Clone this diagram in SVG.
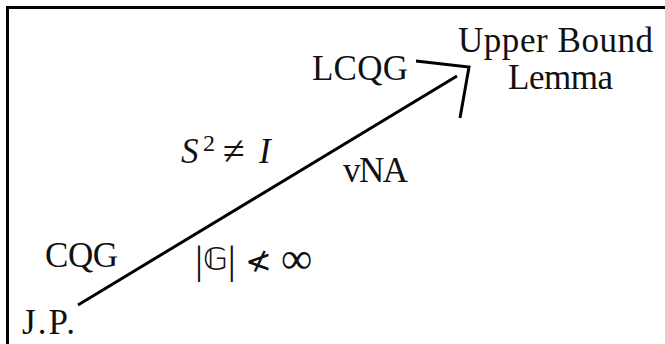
<svg xmlns="http://www.w3.org/2000/svg" width="665" height="344" viewBox="0 0 665 344">
<style>
.t{font-family:"Liberation Serif","DejaVu Serif","DejaVu Sans",serif;font-size:35px;fill:#111}
.m{font-family:"DejaVu Sans","Liberation Serif",serif;fill:#111}
.ln{fill:none;stroke:#000;stroke-width:3;stroke-linecap:butt;stroke-linejoin:miter}
</style>
<rect width="665" height="344" fill="#fff"/>
<path class="ln" d="M7.5,344 V7.5 H665"/>
<g id="connectors">
<line class="ln" x1="78" y1="305" x2="457" y2="76"/>
<polyline class="ln" points="416,61 469,67 460,118"/>
</g>
<g id="jp"><text class="t" x="22" y="334" textLength="53">J.P.</text></g>
<g id="cqg"><text class="t" x="45" y="267" textLength="73">CQG</text></g>
<g id="lcqg"><text class="t" x="312" y="80" textLength="96">LCQG</text></g>
<g id="upper-bound-lemma">
<text class="t" x="458" y="52" textLength="195">Upper Bound</text>
<text class="t" x="508" y="89" textLength="105">Lemma</text>
</g>
<g id="vna"><text class="t" x="343" y="182" textLength="65">vNA</text></g>
<g id="s2">
<text class="t" x="181" y="163"><tspan style="font-style:italic">S</tspan><tspan x="203" dy="-12" style="font-size:24px">2</tspan><tspan x="223" dy="13" style="font-size:40px">≠</tspan><tspan x="259" dy="-1" style="font-style:italic">I</tspan></text>
</g>
<g id="g-order">
<text class="t" x="195" y="273" style="font-size:40px">|<tspan class="m" dy="-3" style="font-size:32px">𝔾</tspan><tspan dy="3">|</tspan><tspan class="m" x="245" dy="-1" style="font-size:32px">≮</tspan><tspan x="281" dy="1" style="font-size:44px">∞</tspan></text>
</g>
</svg>
